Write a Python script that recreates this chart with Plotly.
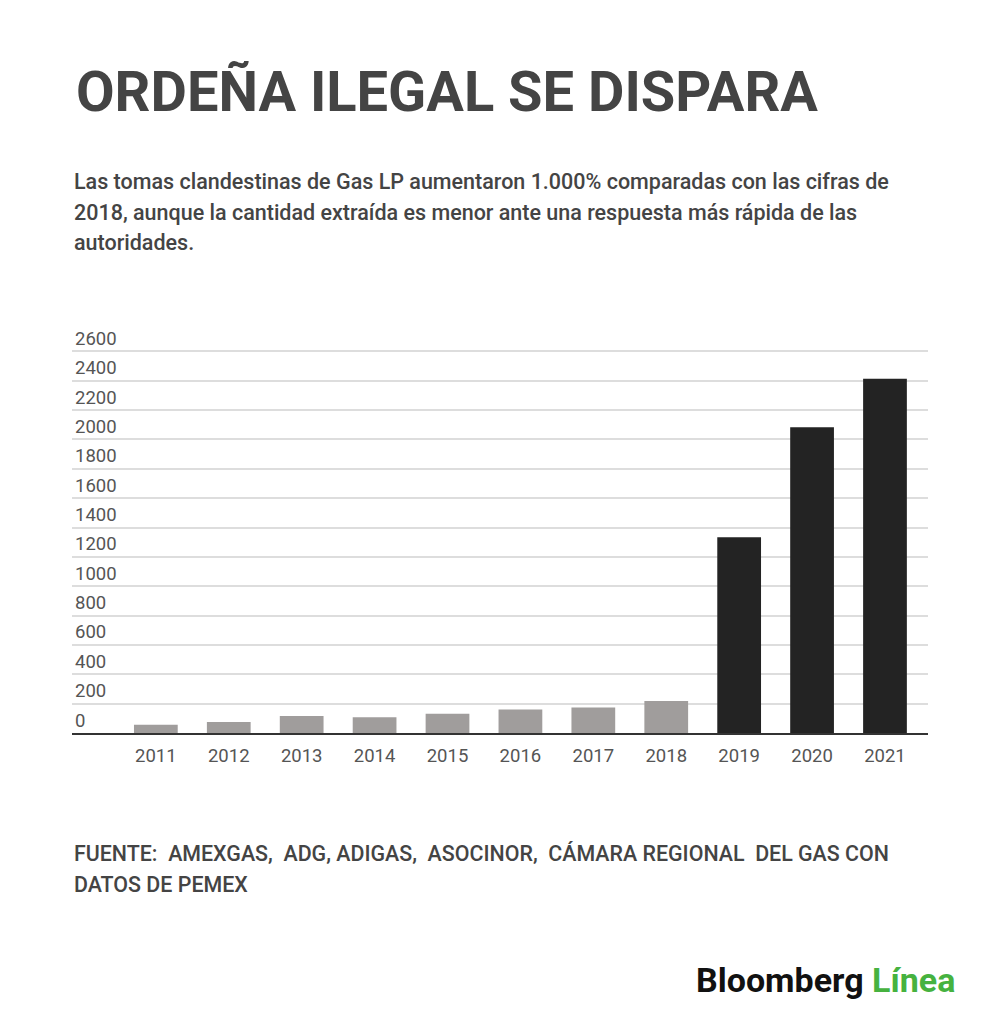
import plotly.graph_objects as go

years = ['2011', '2012', '2013', '2014', '2015', '2016', '2017', '2018', '2019', '2020', '2021']
tomas = [57, 75, 116, 107, 132, 160, 173, 218, 1334, 2083, 2414]
colores = ['#a09d9c'] * 8 + ['#232323'] * 3

yticks = list(range(0, 2601, 200))

titulo = 'ORDEÑA ILEGAL SE DISPARA'
subtitulo = [
    'Las tomas clandestinas de Gas LP aumentaron 1.000% comparadas con las cifras de',
    '2018, aunque la cantidad extraída es menor ante una respuesta más rápida de las',
    'autoridades.',
]
fuente = [
    'FUENTE:\u00a0 AMEXGAS,\u00a0 ADG, ADIGAS,\u00a0 ASOCINOR,\u00a0 CÁMARA REGIONAL\u00a0 DEL GAS CON',
    'DATOS DE PEMEX',
]

# the page puts the figure 8px in from the top-left corner
OFF = 8
W, H = 1000 - OFF, 1025 - OFF
# plot area, in page pixels (top left room for the 2600 label)
L, R, T, B = 72, 928, 312, 733
PX_POR_UNIDAD = 0.14677


def px(x):
    return (x - L) / (R - L)


def py(y):
    return (B - y) / (B - T)


fig = go.Figure()
fig.add_trace(go.Bar(x=years, y=tomas, marker_color=colores,
                     marker_line_width=0, hoverinfo='skip'))

notas = []
notas.append(dict(text=titulo, x=px(74), y=py(92), xanchor='left', yanchor='middle',
                  font=dict(family='Roboto', size=56, color='#444444', weight='bold')))
for i, linea in enumerate(subtitulo):
    notas.append(dict(text=linea, x=px(72), y=py(181 + 31 * i), xanchor='left', yanchor='middle',
                      font=dict(family='Roboto', size=21.5, color='#444444', weight=500)))
for i, linea in enumerate(fuente):
    notas.append(dict(text=linea, x=px(72), y=py(853 + 31 * i), xanchor='left', yanchor='middle',
                      font=dict(family='Roboto', size=21.4, color='#444444', weight=500)))
notas.append(dict(text='Bloomberg <span style="color:#46b23f">Línea</span>',
                  x=px(957), y=py(980), xanchor='right', yanchor='middle',
                  font=dict(family='Roboto', size=34, color='#111111', weight='bold')))
for n in notas:
    n.update(xref='paper', yref='paper', showarrow=False)

fig.update_layout(
    width=W, height=H,
    margin=dict(l=L - OFF, r=W - (R - OFF), t=T - OFF, b=H - (B - OFF), pad=0),
    paper_bgcolor='white', plot_bgcolor='white',
    bargap=0.4, showlegend=False,
    font=dict(family='Roboto', color='#555555'),
    annotations=notas,
)
fig.update_xaxes(range=[-1.15, 10.59], showgrid=False,
                 showline=True, linecolor='#333333', linewidth=2,
                 ticks='outside', ticklen=5, tickcolor='rgba(0,0,0,0)',
                 tickfont=dict(size=18.5, color='#555555'), fixedrange=True)
fig.update_yaxes(range=[0, (B - T) / PX_POR_UNIDAD], tickvals=yticks,
                 showgrid=True, gridcolor='#dddddd', gridwidth=1.5,
                 zeroline=False, ticklabelposition='inside top', ticks='',
                 tickfont=dict(size=18.5, color='#555555'), fixedrange=True)

fig.write_html('out.html', config={'displayModeBar': False})
